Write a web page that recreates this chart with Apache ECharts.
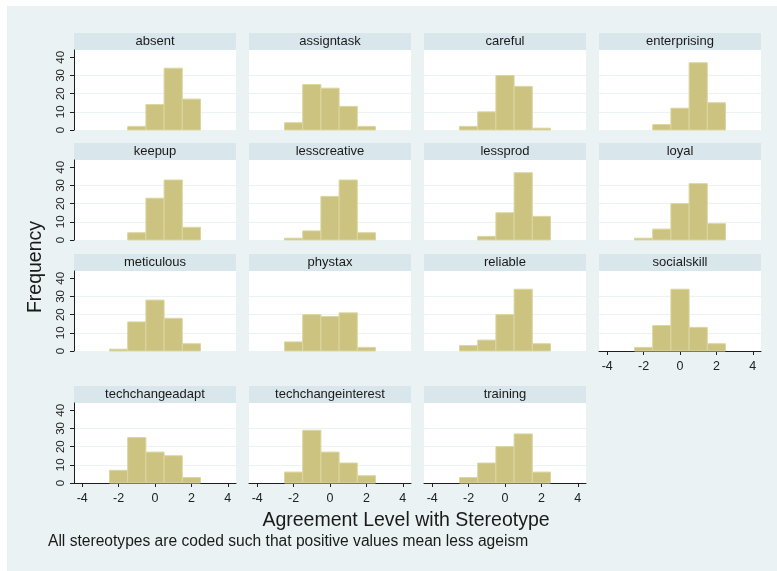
<!DOCTYPE html>
<html>
<head>
<meta charset="utf-8">
<title>Agreement Level with Stereotype</title>
<script src="https://cdn.jsdelivr.net/npm/echarts@6/dist/echarts.min.js"></script>
<style>
  html, body { margin: 0; padding: 0; background: #ffffff; }
  #chart { width: 777px; height: 571px; }
</style>
</head>
<body>
<div id="chart"></div>
<script>
// Histogram bins (width 1, centred on the integer agreement levels)
const binCenters = [-2, -1, 0, 1, 2];
const binWidth = 1;

// Frequencies per bin, one array per stereotype item
const absent             = [0, 2, 14, 34, 17];
const assigntask         = [4, 25, 23, 13, 2];
const careful            = [2, 10, 30, 24, 1];
const enterprising       = [0, 3, 12, 37, 15];
const keepup             = [0, 4, 23, 33, 7];
const lesscreative       = [1, 5, 24, 33, 4];
const lessprod           = [0, 2, 15, 37, 13];
const loyal              = [1, 6, 20, 31, 9];
const meticulous         = [1, 16, 28, 18, 4];
const phystax            = [5, 20, 19, 21, 2];
const reliable           = [3, 6, 20, 34, 4];
const socialskill        = [2, 14, 34, 13, 4];
const techchangeadapt    = [7, 25, 17, 15, 3];
const techchangeinterest = [6, 29, 17, 11, 4];
const training           = [3, 11, 20, 27, 6];

const panelNames = ['absent', 'assigntask', 'careful', 'enterprising',
  'keepup', 'lesscreative', 'lessprod', 'loyal',
  'meticulous', 'phystax', 'reliable', 'socialskill',
  'techchangeadapt', 'techchangeinterest', 'training'];
const panelValues = [absent, assigntask, careful, enterprising,
  keepup, lesscreative, lessprod, loyal,
  meticulous, phystax, reliable, socialskill,
  techchangeadapt, techchangeinterest, training];

// Axis ticks
const xTicks = [-4, -2, 0, 2, 4];
const yTicks = [0, 10, 20, 30, 40];

const xTitle = 'Agreement Level with Stereotype';
const yTitle = 'Frequency';
const noteText = 'All stereotypes are coded such that positive values mean less ageism';

// Layout of the 4-column panel grid
const colLeft = [74, 249, 424, 599];
const rowTop = [50, 160, 271, 403];
const panelW = 162;
const panelH = 80;
const stripH = 17;
const bottomPanels = [11, 12, 13, 14];

const FONT = '"Liberation Sans", Arial, sans-serif';
const BG = '#eaf2f3';
const STRIP = '#d9e6eb';
const BAR_FILL = '#cbc37f';
const BAR_EDGE = '#dcd6a2';
const AXIS = '#1e1e1e';

const grids = [], xAxes = [], yAxes = [], series = [], graphics = [];

// page background with thin white margin at top/left
graphics.push({
  type: 'rect', z: -10, silent: true,
  shape: { x: 7, y: 6, width: 777 - 7, height: 571 - 6 },
  style: { fill: BG }
});

panelNames.forEach((name, i) => {
  const row = Math.floor(i / 4), col = i % 4;
  const left = colLeft[col], top = rowTop[row];
  const showX = bottomPanels.includes(i);
  const showY = col === 0;

  grids.push({
    left: left, top: top, width: panelW, height: panelH,
    show: true, backgroundColor: '#ffffff', borderWidth: 0
  });

  xAxes.push({
    gridIndex: i, type: 'value', min: -4.45, max: 4.45,
    splitLine: { show: false },
    axisLine: { show: showX, onZero: false, lineStyle: { color: AXIS, width: 1 } },
    axisTick: { show: showX, length: 4, customValues: xTicks, lineStyle: { color: AXIS } },
    axisLabel: { show: showX, customValues: xTicks, margin: 9, fontSize: 12.5,
      fontFamily: FONT, color: '#222' }
  });

  yAxes.push({
    gridIndex: i, type: 'value', min: 0, max: 44, interval: 10,
    splitLine: { show: true, showMaxLine: false, showMinLine: false,
      lineStyle: { color: BG, width: 1 } },
    axisLine: { show: showY, onZero: false, lineStyle: { color: AXIS, width: 1 } },
    axisTick: { show: showY, length: 4, customValues: yTicks, lineStyle: { color: AXIS } },
    axisLabel: { show: showY, customValues: yTicks, rotate: 90, margin: 7,
      fontSize: 11.5, fontFamily: FONT, color: '#222' }
  });

  series.push({
    type: 'custom', xAxisIndex: i, yAxisIndex: i,
    data: binCenters.map((c, k) => [c, panelValues[i][k]]).filter(d => d[1] > 0),
    renderItem: function (params, api) {
      const x = api.value(0), y = api.value(1);
      const p0 = api.coord([x - binWidth / 2, y]);
      const p1 = api.coord([x + binWidth / 2, 0]);
      return {
        type: 'rect',
        shape: { x: p0[0], y: p0[1], width: p1[0] - p0[0], height: p1[1] - p0[1] },
        style: { fill: BAR_FILL, stroke: BAR_EDGE, lineWidth: 1 }
      };
    }
  });

  // panel strip with the item name
  graphics.push({
    type: 'rect', silent: true,
    shape: { x: left, y: top - stripH, width: panelW, height: stripH },
    style: { fill: STRIP }
  });
  graphics.push({
    type: 'text', silent: true,
    x: left + panelW / 2, y: top - stripH / 2,
    style: { text: name, fill: '#1a1a1a', font: '13px ' + FONT,
      textAlign: 'center', textVerticalAlign: 'middle' }
  });
});

// overall titles and note
graphics.push({
  type: 'text', silent: true, x: 406, y: 521,
  style: { text: xTitle, fill: '#1a1a1a', font: '19.5px ' + FONT,
    textAlign: 'center', textVerticalAlign: 'middle' }
});
graphics.push({
  type: 'text', silent: true, x: 36, y: 267, rotation: Math.PI / 2,
  style: { text: yTitle, fill: '#1a1a1a', font: '19.5px ' + FONT,
    textAlign: 'center', textVerticalAlign: 'middle' }
});
graphics.push({
  type: 'text', silent: true, x: 48, y: 542,
  style: { text: noteText, fill: '#1a1a1a', font: '15.6px ' + FONT,
    textAlign: 'left', textVerticalAlign: 'middle' }
});

const chart = echarts.init(document.getElementById('chart'), null, { renderer: 'canvas' });
chart.setOption({
  backgroundColor: '#ffffff',
  animation: false,
  grid: grids,
  xAxis: xAxes,
  yAxis: yAxes,
  series: series,
  graphic: { elements: graphics }
});
</script>
</body>
</html>
